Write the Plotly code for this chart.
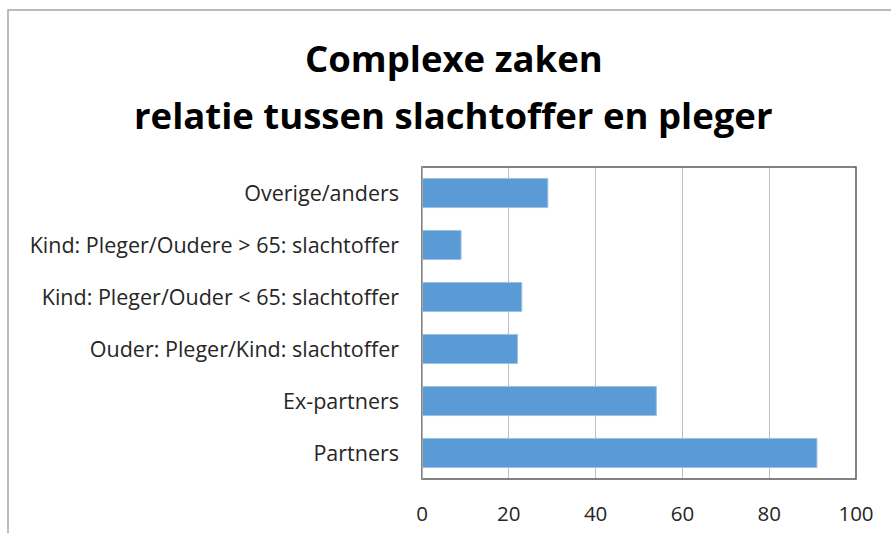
import plotly.graph_objects as go

categories = [
    "Partners",
    "Ex-partners",
    "Ouder: Pleger/Kind: slachtoffer",
    "Kind: Pleger/Ouder < 65: slachtoffer",
    "Kind: Pleger/Oudere > 65: slachtoffer",
    "Overige/anders",
]
values = [91, 54, 22, 23, 9, 29]
tick_vals = [0, 20, 40, 60, 80, 100]
title_lines = ["Complexe zaken", "relatie tussen slachtoffer en pleger"]

FONT = "'Open Sans', Lato, sans-serif"

fig = go.Figure(
    go.Bar(
        x=values,
        y=categories,
        orientation="h",
        marker=dict(color="#5B9BD5", line=dict(color="#9DC3E6", width=1)),
        width=0.56,
    )
)

fig.update_layout(
    width=891,
    height=533,
    margin=dict(l=422, r=35, t=167, b=54),
    paper_bgcolor="white",
    plot_bgcolor="white",
    showlegend=False,
    font=dict(family=FONT, color="#262626"),
    xaxis=dict(
        range=[0, 100],
        tickvals=tick_vals,
        showgrid=True,
        gridcolor="#BFBFBF",
        gridwidth=1,
        zeroline=False,
        showline=False,
        ticks="",
        tickfont=dict(size=20.5, color="#262626"),
        ticklabelstandoff=20,
        automargin=False,
        fixedrange=True,
    ),
    yaxis=dict(
        showgrid=False,
        zeroline=False,
        showline=False,
        ticks="",
        tickfont=dict(size=21.5, color="#262626"),
        ticklabelstandoff=22,
        automargin=False,
        fixedrange=True,
    ),
    annotations=[
        dict(text="<b>%s</b>" % title_lines[0], xref="paper", yref="paper",
             x=0.0737, y=(479 - 58) / 312, xanchor="center", yanchor="middle",
             showarrow=False, font=dict(family=FONT, size=36.5, color="#000000")),
        dict(text="<b>%s</b>" % title_lines[1], xref="paper", yref="paper",
             x=0.0737, y=(479 - 115) / 312, xanchor="center", yanchor="middle",
             showarrow=False, font=dict(family=FONT, size=36.5, color="#000000")),
    ],
    shapes=[
        dict(type="rect", xref="paper", yref="paper", x0=0, x1=1, y0=0, y1=1,
             line=dict(color="#595959", width=1.5), layer="above"),
        dict(type="line", xref="x", yref="paper", x0=0, x1=0, y0=0, y1=1,
             line=dict(color="#BFBFBF", width=1.5), layer="above"),
        dict(type="rect", xref="paper", yref="paper",
             x0=(8 - 422) / 434, x1=1.2, y0=-0.3, y1=(479 - 10) / 312,
             line=dict(color="#A6A6A6", width=1.5), layer="below"),
    ],
)

fig.write_html(
    "out.html",
    config={"displayModeBar": False},
    post_script="document.body.style.margin='0';",
)
